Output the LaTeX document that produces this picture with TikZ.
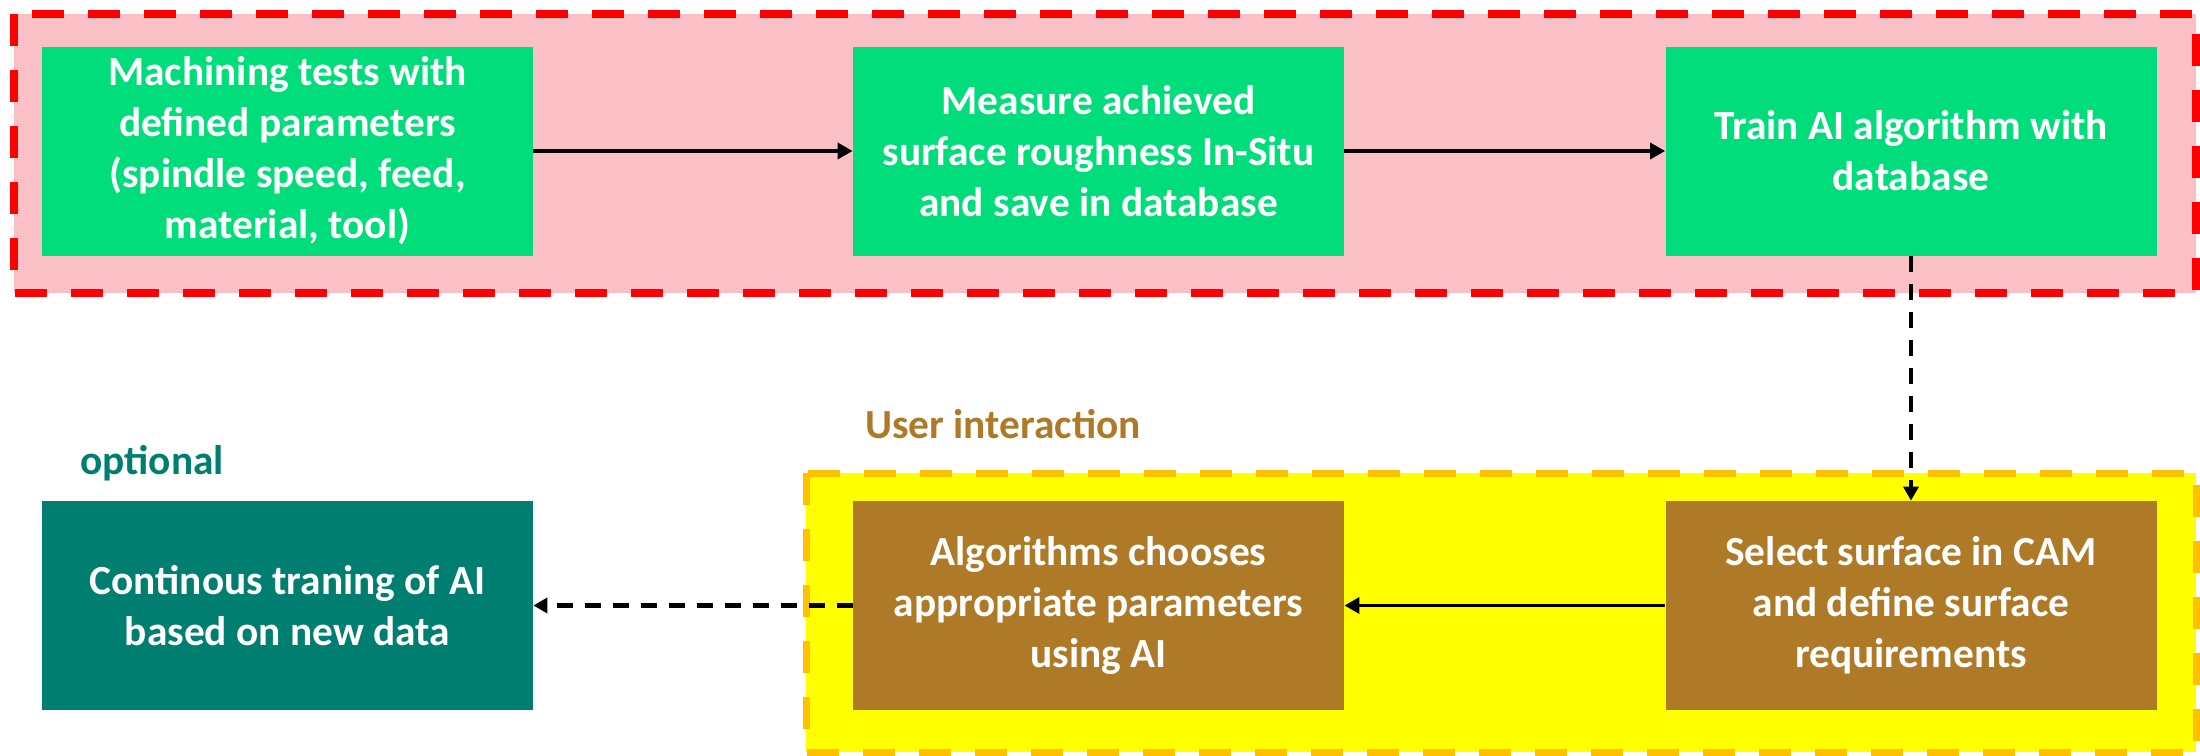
\documentclass[tikz,border=0pt]{standalone}
\usepackage{fontspec}
\setmainfont{Carlito}
\usetikzlibrary{arrows.meta}
\definecolor{boxgreen}{RGB}{0,221,122}
\definecolor{pinkfill}{RGB}{251,192,198}
\definecolor{redline}{RGB}{255,0,0}
\definecolor{yellowfill}{RGB}{255,255,0}
\definecolor{orangeline}{RGB}{255,192,0}
\definecolor{brownbox}{RGB}{174,122,39}
\definecolor{tealbox}{RGB}{0,126,111}
\tikzset{
  stepbox/.style={rectangle, minimum width=245.5pt, minimum height=104.5pt,
    align=center, inner sep=0pt, text=white,
    font=\bfseries\fontsize{20.7}{25.5}\selectfont},
  greenbox/.style={stepbox, fill=boxgreen},
  brownstep/.style={stepbox, fill=brownbox},
  tealstep/.style={stepbox, fill=tealbox},
  conn/.style={line width=1.7pt, -{Triangle[length=7.5pt,width=8pt]}},
  dconn/.style={line width=2.1pt, dash pattern=on 8pt off 6pt,
    -{Triangle[length=7pt,width=7.5pt]}},
  grouplabel/.style={font=\bfseries\fontsize{20.7}{25.5}\selectfont, inner sep=0pt}
}
\begin{document}
\begin{tikzpicture}[x=0.5pt,y=-0.5pt]
\useasboundingbox (0,0) rectangle (2200,755);
% red group
\fill[pinkfill] (14,14) rectangle (2196,293);
\draw[redline, line width=4pt, dash pattern=on 16pt off 12pt] (14,14) rectangle (2196,293);
% yellow group
\fill[yellowfill] (806,473) rectangle (2196,752);
\draw[orangeline, line width=3.5pt, dash pattern=on 16pt off 12pt] (806,473) rectangle (2196,752);
% nodes
\node[greenbox] (b1) at (287.5,151) {Machining tests with\\defined parameters\\(spindle speed, feed,\\material, tool)};
\node[greenbox] (b2) at (1098.5,151) {Measure achieved\\surface roughness In-Situ\\and save in database};
\node[greenbox] (b3) at (1911,151) {Train AI algorithm with\\database};
\node[brownstep] (b5) at (1911,605.5) {Select surface in CAM\\and define surface\\requirements};
\node[brownstep] (b4) at (1098.5,605.5) {Algorithms chooses\\appropriate parameters\\using AI};
\node[tealstep] (b6) at (287.5,605.5) {Continous traning of AI\\based on new data};
\node[grouplabel, text=brownbox] (lu) at (1003,424) {User interaction};
\node[grouplabel, text=tealbox] (lo) at (152,463) {optional};
% connectors
\draw[conn] (b1) -- (b2);
\draw[conn] (b2) -- (b3);
\draw[dconn] (b3.south) -- (b5.north);
\draw[conn] (b5) -- (b4);
\draw[dconn] (b4) -- (b6);
\end{tikzpicture}
\end{document}
